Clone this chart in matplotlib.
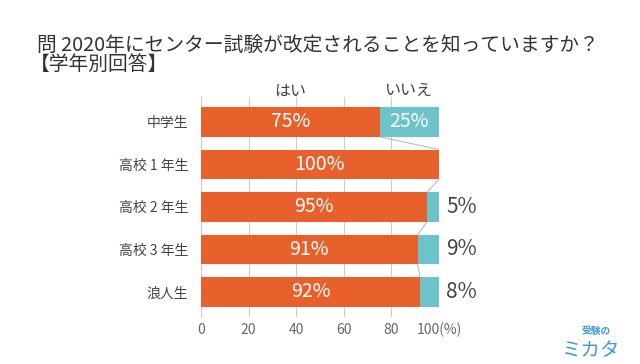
import matplotlib.pyplot as plt

plt.rcParams['font.family'] = ['Noto Sans CJK JP', 'DejaVu Sans']

# data
categories = ['中学生', '高校 1 年生', '高校 2 年生', '高校 3 年生', '浪人生']
yes = [75, 100, 95, 91, 92]
no = [25, 0, 5, 9, 8]
xticks = [0, 20, 40, 60, 80, 100]
xtick_labels = ['0', '20', '40', '60', '80', '100(%)']

orange = '#E8602C'
teal = '#6CC4CA'
grid_c = '#CCCCCC'
text_c = '#666666'

fig = plt.figure(figsize=(6.4, 3.64), dpi=100)
ax = fig.add_axes([0.314, 0.129, 0.372, 0.605])

y = list(range(len(categories)))
h = 0.7
ax.barh(y, yes, height=h, color=orange, zorder=3)
ax.barh(y, no, left=yes, height=h, color=teal, zorder=3)

# connector lines between bars
for i in range(len(categories) - 1):
    ax.plot([yes[i], yes[i + 1]], [i + h / 2, i + 1 - h / 2],
            color='#BBBBBB', lw=0.8, zorder=2)

# labels inside / beside bars
for i in range(len(categories)):
    ax.text(yes[i] / 2, i, f'{yes[i]}%', ha='center', va='center',
            color='white', fontsize=14, zorder=4)
    if no[i] >= 20:
        ax.text(yes[i] + no[i] / 2, i, f'{no[i]}%', ha='center', va='center',
                color='white', fontsize=14, zorder=4)
    elif no[i] > 0:
        ax.annotate(f'{no[i]}%', xy=(100, i), xytext=(5, 0),
                    textcoords='offset points', ha='left', va='center',
                    color='#444444', fontsize=15,
                    annotation_clip=False)

ax.set_xlim(0, 100)
ax.set_ylim(len(categories) - 1 + 0.59, -0.59)
ax.set_xticks(xticks)
ax.set_xticklabels(xtick_labels, color=text_c, fontsize=10)
ax.set_yticks(y)
ax.set_yticklabels(categories, color='#444444', fontsize=10)
ax.tick_params(axis='both', length=0, pad=4)
ax.tick_params(axis='y', pad=9)
ax.grid(axis='x', color=grid_c, lw=0.8, zorder=1)
for s in ['top', 'right', 'bottom']:
    ax.spines[s].set_visible(False)
ax.spines['left'].set_color(grid_c)

# column headers
ax.text(yes[0] / 2, -0.73, 'はい', ha='center', va='center',
        fontsize=11.5, color='#444444')
ax.text(yes[0] + no[0] / 2, -0.73, 'いいえ', ha='center', va='center',
        fontsize=11.5, color='#444444')

# title
fig.text(0.058, 0.876, '問 2020年にセンター試験が改定されることを知っていますか？',
         fontsize=14.2, color='#333333', va='center')
fig.text(0.046, 0.82, '【学年別回答】', fontsize=14.2, color='#333333', va='center')

# logo
fig.text(0.955, 0.092, '受験の', fontsize=7, color='#3D9BD4', ha='right',
         va='center', fontweight='bold')
fig.text(0.97, 0.037, 'ミカタ', fontsize=14, color='#3D9BD4', ha='right',
         va='center')

fig.savefig('out.png', dpi=100, facecolor='white')
